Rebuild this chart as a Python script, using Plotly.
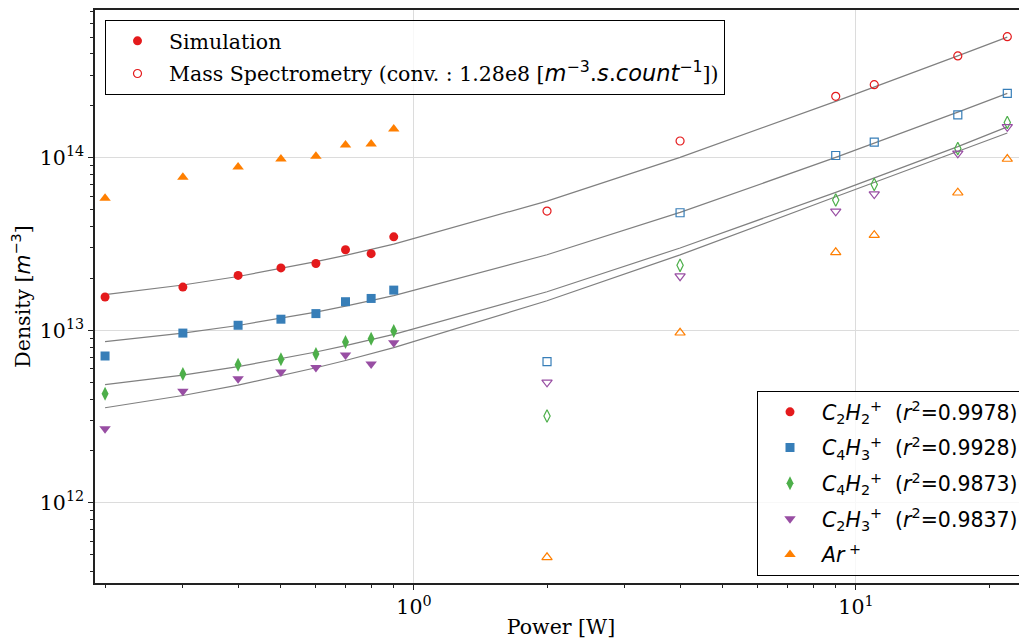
import plotly.graph_objects as go

# ---------------- data ----------------
power_sim = [0.2, 0.3, 0.4, 0.5, 0.6, 0.7, 0.8, 0.9]
power_ms = [2, 4, 9, 11, 17, 22]
power_fit = power_sim + power_ms

sim_c2h2 = [1.56e13, 1.78e13, 2.08e13, 2.30e13, 2.44e13, 2.93e13, 2.78e13, 3.48e13]
sim_c4h3 = [7.1e12, 9.64e12, 1.07e13, 1.16e13, 1.25e13, 1.465e13, 1.53e13, 1.71e13]
sim_c4h2 = [4.29e12, 5.58e12, 6.32e12, 6.79e12, 7.29e12, 8.55e12, 8.94e12, 9.9e12]
sim_c2h3 = [2.69e12, 4.43e12, 5.24e12, 5.73e12, 6.1e12, 7.19e12, 6.38e12, 8.47e12]
sim_ar = [5.82e13, 7.7e13, 8.83e13, 9.83e13, 1.02e14, 1.185e14, 1.2e14, 1.466e14]

ms_c2h2 = [4.91e13, 1.25e14, 2.27e14, 2.65e14, 3.89e14, 5.03e14]
ms_c4h3 = [6.58e12, 4.8e13, 1.03e14, 1.23e14, 1.77e14, 2.36e14]
ms_c4h2 = [3.19e12, 2.38e13, 5.69e13, 7.0e13, 1.13e14, 1.6e14]
ms_c2h3 = [5.0e12, 2.06e13, 4.89e13, 6.16e13, 1.06e14, 1.51e14]
ms_ar = [4.84e11, 9.68e12, 2.83e13, 3.56e13, 6.27e13, 9.83e13]

fit_c2h2 = [1.61e13, 1.83e13, 2.05e13, 2.28e13, 2.50e13, 2.72e13, 2.94e13, 3.16e13,
            5.61e13, 1.005e14, 2.12e14, 2.56e14, 3.89e14, 5.0e14]
fit_c4h3 = [8.59e12, 9.63e12, 1.067e13, 1.172e13, 1.276e13, 1.38e13, 1.484e13, 1.589e13,
            2.74e13, 4.82e13, 1.004e14, 1.212e14, 1.838e14, 2.36e14]
fit_c4h2 = [4.84e12, 5.50e12, 6.16e12, 6.83e12, 7.49e12, 8.15e12, 8.81e12, 9.47e12,
            1.674e13, 3.0e13, 6.3e13, 7.62e13, 1.159e14, 1.51e14]
fit_c2h3 = [3.56e12, 4.19e12, 4.81e12, 5.44e12, 6.07e12, 6.69e12, 7.32e12, 7.94e12,
            1.483e13, 2.735e13, 5.94e13, 7.2e13, 1.087e14, 1.39e14]

species_names = [
    "<i>C</i><sub>2</sub><i>H</i><sub>2</sub><sup>+</sup>  (<i>r</i><sup>2</sup>=0.9978)",
    "<i>C</i><sub>4</sub><i>H</i><sub>3</sub><sup>+</sup>  (<i>r</i><sup>2</sup>=0.9928)",
    "<i>C</i><sub>4</sub><i>H</i><sub>2</sub><sup>+</sup>  (<i>r</i><sup>2</sup>=0.9873)",
    "<i>C</i><sub>2</sub><i>H</i><sub>3</sub><sup>+</sup>  (<i>r</i><sup>2</sup>=0.9837)",
    "<i>Ar</i><sup> +</sup>",
]
x_tickvals = [1, 10]
x_ticktext = ["10<sup>0</sup>", "10<sup>1</sup>"]
y_tickvals = [1e12, 1e13, 1e14]
y_ticktext = ["10<sup>12</sup>", "10<sup>13</sup>", "10<sup>14</sup>"]

# ---------------- styles ----------------
SERIF = "DejaVu Serif"
SANS = "DejaVu Sans"
FS = 20.5
colors = ["#e41a1c", "#377eb8", "#4daf4a", "#984ea3", "#ff7f00"]
sym_fill = ["circle", "square", "diamond-tall", "triangle-down", "triangle-up"]
sym_open = ["circle-open", "square-open", "diamond-tall-open", "triangle-down-open", "triangle-up-open"]
size_fill = [9, 9, 10, 10, 10]
size_open = [8, 8, 9, 9, 9]

sims = [sim_c2h2, sim_c4h3, sim_c4h2, sim_c2h3, sim_ar]
mss = [ms_c2h2, ms_c4h3, ms_c4h2, ms_c2h3, ms_ar]
fits = [fit_c2h2, fit_c4h3, fit_c4h2, fit_c2h3]

# the page body has an 8px margin, so the figure is drawn 8px in from the corner
OFF = 8
W, H = 1027 - OFF, 643 - OFF
# plot-area geometry in page pixels
L, R, T, B = 95, 1027, 10, 583
PW, PH = R - L, B - T

fig = go.Figure()

# fit lines
for f in fits:
    fig.add_trace(go.Scatter(x=power_fit, y=f, mode="lines",
                             line=dict(color="#808080", width=1.2),
                             showlegend=False, hoverinfo="skip"))

# mass spectrometry (open markers)
for i, m in enumerate(mss):
    fig.add_trace(go.Scatter(x=power_ms, y=m, mode="markers",
                             marker=dict(symbol=sym_open[i], size=size_open[i],
                                         color=colors[i], line=dict(width=1.2, color=colors[i])),
                             showlegend=False))

# simulation (filled markers) -> legend 2
for i, s in enumerate(sims):
    fig.add_trace(go.Scatter(x=power_sim, y=s, mode="markers", name=species_names[i],
                             marker=dict(symbol=sym_fill[i], size=size_fill[i], color=colors[i],
                                         line=dict(width=0)),
                             legend="legend2", legendgroup="g%d" % i))

# legend 1 entries (style keys only)
fig.add_trace(go.Scatter(x=[None], y=[None], mode="markers", name="Simulation",
                         marker=dict(symbol="circle", size=9, color=colors[0]),
                         legend="legend", legendgroup="l1"))
fig.add_trace(go.Scatter(
    x=[None], y=[None], mode="markers",
    name=("Mass Spectrometry (conv. : 1.28e8 [<span style=\"font-family:DejaVu Sans;"
          "font-size:22.5px\"><i>m</i><sup>\u22123</sup>.<i>s</i>.<i>count</i>"
          "<sup>\u22121</sup></span>])"),
    marker=dict(symbol="circle-open", size=8, color=colors[0], line=dict(width=1.2)),
    legend="legend", legendgroup="l2"))

axis_common = dict(
    type="log", showline=True, linecolor="#222", linewidth=1.5,
    ticks="outside", ticklen=5, tickwidth=1, tickcolor="#222",
    showgrid=True, gridcolor="#dcdcdc", gridwidth=1,
    tickfont=dict(family=SERIF, size=FS, color="black"),
    zeroline=False,
)

minor_x = [m * 10 ** e for e in (-1, 0, 1) for m in range(2, 10)]
minor_y = [m * 10 ** e for e in (11, 12, 13, 14) for m in range(2, 10)]

fig.update_xaxes(**axis_common, range=[-0.7217, 1.387], mirror=True,
                 tickmode="array", tickvals=x_tickvals, ticktext=x_ticktext,
                 minor=dict(tickmode="array", tickvals=minor_x, ticks="outside",
                            ticklen=3, tickcolor="#222", showgrid=False),
                 title=dict(text="Power [W]", font=dict(family=SERIF, size=FS, color="black"),
                            standoff=1))
fig.update_yaxes(**axis_common, range=[11.536, 14.856],
                 tickmode="array", tickvals=y_tickvals, ticktext=y_ticktext,
                 minor=dict(tickmode="array", tickvals=minor_y, ticks="outside",
                            ticklen=3, tickcolor="#222", showgrid=False),
                 title=dict(text="Density [<span style=\"font-family:DejaVu Sans\"><i>m</i>"
                                 "<sup>\u22123</sup></span>]",
                            font=dict(family=SERIF, size=FS, color="black"), standoff=4))

fig.update_layout(
    width=W, height=H,
    margin=dict(l=L - OFF, r=(1027 - OFF) - (R - OFF), t=T - OFF, b=H - (B - OFF),
                autoexpand=False),
    paper_bgcolor="white", plot_bgcolor="white",
    font=dict(family=SERIF, size=FS, color="black"),
    legend=dict(x=(105 - L) / PW, y=1 - (20 - T) / PH,
                xanchor="left", yanchor="top", bgcolor="rgba(255,255,255,0.8)",
                bordercolor="black", borderwidth=1,
                font=dict(family=SERIF, size=FS, color="black"),
                traceorder="grouped", tracegroupgap=3, itemwidth=53),
    legend2=dict(x=(757 - L) / PW, y=1 - (391 - T) / PH,
                 xanchor="left", yanchor="top", bgcolor="rgba(255,255,255,0.8)",
                 bordercolor="black", borderwidth=1,
                 font=dict(family=SANS, size=FS, color="black"),
                 traceorder="grouped", tracegroupgap=6, itemwidth=54),
    showlegend=True,
)

fig.write_html("out.html")
